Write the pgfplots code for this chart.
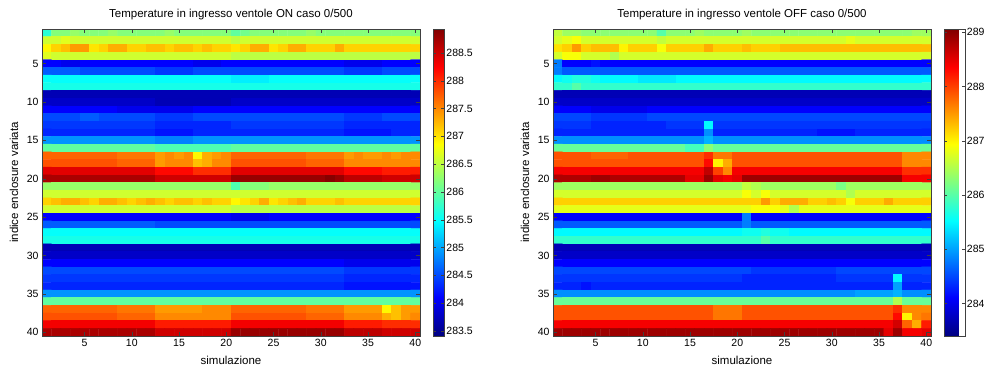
\documentclass[border=0pt]{standalone}
\usepackage{fontspec}
\setmainfont{Liberation Sans}
\usepackage{pgfplots}
\usepackage{pgfplotstable}
\pgfplotsset{compat=1.18}
\pgfplotsset{
  /pgf/number format/assume math mode=true,
  every axis/.append style={font=\fontsize{10.5}{12}\selectfont},
  hm/.style={
    scale only axis, width=378pt, height=307pt,
    xmin=0.5, xmax=40.5, ymin=0.5, ymax=40.5, y dir=reverse,
    xtick={5,10,...,40}, ytick={5,10,...,40},
    tick align=inside, tick pos=both, major tick length=4pt,
    axis on top, axis line style={black!75}, tick style={black!75},
    title style={font=\fontsize{11.5}{13}\selectfont, at={(axis description cs:0.5,1.026)}, anchor=center},
    xlabel={simulazione}, ylabel={indice enclosure variata},
    xlabel style={font=\fontsize{11.5}{13}\selectfont, at={(axis description cs:0.5,-0.078)}, anchor=center},
    ylabel style={font=\fontsize{11.5}{13}\selectfont, at={(axis description cs:-0.074,0.5)}, anchor=center},
    colormap/jet, colorbar, colorbar shift/.style={xshift=9pt},
  }
}
\pgfplotstableread[row sep=\\]{c\\
285.7\\ 286.2\\ 286.2\\ 286.3\\ 286.2\\ 286.2\\ 286.2\\ 286.3\\ 286.2\\ 286.2\\
286.2\\ 286.2\\ 286.2\\ 286.3\\ 286.2\\ 286.2\\ 286.2\\ 286.2\\ 286.2\\ 286.2\\
286.0\\ 286.1\\ 286.2\\ 286.2\\ 286.2\\ 286.2\\ 286.2\\ 286.2\\ 286.3\\ 286.2\\
286.2\\ 286.2\\ 286.2\\ 286.2\\ 286.2\\ 286.2\\ 286.2\\ 286.2\\ 286.2\\ 286.2\\
286.6\\ 286.6\\ 286.7\\ 286.6\\ 286.6\\ 286.6\\ 286.6\\ 286.6\\ 286.6\\ 286.6\\
286.6\\ 286.6\\ 286.6\\ 286.6\\ 286.6\\ 286.6\\ 286.6\\ 286.6\\ 286.6\\ 286.6\\
286.5\\ 286.6\\ 286.6\\ 286.6\\ 286.6\\ 286.6\\ 286.6\\ 286.6\\ 286.6\\ 286.6\\
286.6\\ 286.6\\ 286.6\\ 286.6\\ 286.6\\ 286.6\\ 286.6\\ 286.6\\ 286.6\\ 286.6\\
286.9\\ 287.1\\ 287.2\\ 287.4\\ 287.4\\ 287.0\\ 287.1\\ 287.3\\ 287.3\\ 287.1\\
287.1\\ 287.2\\ 287.2\\ 287.1\\ 287.2\\ 287.2\\ 287.1\\ 287.2\\ 287.1\\ 287.1\\
287.0\\ 287.1\\ 287.3\\ 287.3\\ 287.0\\ 287.1\\ 287.3\\ 287.3\\ 287.1\\ 287.1\\
287.1\\ 287.3\\ 287.1\\ 287.1\\ 287.1\\ 287.1\\ 287.1\\ 287.1\\ 287.1\\ 287.1\\
286.7\\ 286.6\\ 286.6\\ 286.6\\ 286.6\\ 286.6\\ 286.6\\ 286.6\\ 286.6\\ 286.6\\
286.6\\ 286.6\\ 286.6\\ 286.6\\ 286.6\\ 286.6\\ 286.6\\ 286.6\\ 286.6\\ 286.6\\
286.5\\ 286.5\\ 286.5\\ 286.5\\ 286.5\\ 286.5\\ 286.5\\ 286.5\\ 286.5\\ 286.5\\
286.5\\ 286.5\\ 286.5\\ 286.5\\ 286.5\\ 286.5\\ 286.5\\ 286.5\\ 286.5\\ 286.5\\
284.1\\ 284.1\\ 284.0\\ 284.0\\ 284.1\\ 284.1\\ 284.1\\ 284.1\\ 284.1\\ 284.1\\
284.1\\ 284.1\\ 284.1\\ 284.1\\ 284.1\\ 284.1\\ 284.0\\ 284.0\\ 284.0\\ 284.1\\
284.1\\ 284.1\\ 284.1\\ 284.1\\ 284.1\\ 284.1\\ 284.1\\ 284.1\\ 284.1\\ 284.1\\
284.1\\ 284.1\\ 284.0\\ 284.0\\ 284.0\\ 284.0\\ 284.1\\ 284.1\\ 284.1\\ 284.1\\
284.6\\ 284.6\\ 284.6\\ 284.6\\ 284.5\\ 284.5\\ 284.5\\ 284.5\\ 284.5\\ 284.5\\
284.5\\ 284.5\\ 284.4\\ 284.4\\ 284.4\\ 284.4\\ 284.5\\ 284.5\\ 284.5\\ 284.5\\
284.5\\ 284.5\\ 284.5\\ 284.5\\ 284.5\\ 284.5\\ 284.5\\ 284.5\\ 284.5\\ 284.5\\
284.5\\ 284.5\\ 284.4\\ 284.4\\ 284.4\\ 284.4\\ 284.5\\ 284.5\\ 284.5\\ 284.5\\
285.5\\ 285.5\\ 285.5\\ 285.5\\ 285.5\\ 285.5\\ 285.5\\ 285.5\\ 285.5\\ 285.5\\
285.5\\ 285.5\\ 285.5\\ 285.5\\ 285.5\\ 285.5\\ 285.5\\ 285.5\\ 285.5\\ 285.5\\
285.4\\ 285.4\\ 285.4\\ 285.4\\ 285.5\\ 285.5\\ 285.5\\ 285.5\\ 285.5\\ 285.5\\
285.5\\ 285.5\\ 285.5\\ 285.5\\ 285.5\\ 285.5\\ 285.5\\ 285.5\\ 285.5\\ 285.5\\
285.6\\ 285.6\\ 285.6\\ 285.6\\ 285.6\\ 285.6\\ 285.6\\ 285.6\\ 285.6\\ 285.6\\
285.6\\ 285.6\\ 285.6\\ 285.6\\ 285.6\\ 285.6\\ 285.6\\ 285.6\\ 285.6\\ 285.6\\
285.6\\ 285.6\\ 285.6\\ 285.6\\ 285.6\\ 285.6\\ 285.6\\ 285.6\\ 285.6\\ 285.6\\
285.6\\ 285.6\\ 285.6\\ 285.6\\ 285.6\\ 285.6\\ 285.6\\ 285.6\\ 285.6\\ 285.6\\
283.7\\ 283.7\\ 283.7\\ 283.7\\ 283.7\\ 283.7\\ 283.7\\ 283.7\\ 283.7\\ 283.7\\
283.7\\ 283.7\\ 283.7\\ 283.7\\ 283.7\\ 283.7\\ 283.7\\ 283.7\\ 283.7\\ 283.7\\
283.7\\ 283.7\\ 283.7\\ 283.7\\ 283.7\\ 283.7\\ 283.7\\ 283.7\\ 283.7\\ 283.7\\
283.7\\ 283.7\\ 283.7\\ 283.7\\ 283.7\\ 283.7\\ 283.7\\ 283.7\\ 283.7\\ 283.7\\
283.8\\ 283.8\\ 283.8\\ 283.8\\ 283.8\\ 283.8\\ 283.8\\ 283.8\\ 283.8\\ 283.8\\
283.8\\ 283.8\\ 283.7\\ 283.7\\ 283.7\\ 283.7\\ 283.7\\ 283.7\\ 283.7\\ 283.7\\
283.8\\ 283.8\\ 283.8\\ 283.8\\ 283.8\\ 283.8\\ 283.8\\ 283.8\\ 283.8\\ 283.8\\
283.8\\ 283.8\\ 283.8\\ 283.8\\ 283.8\\ 283.8\\ 283.8\\ 283.8\\ 283.8\\ 283.8\\
284.1\\ 284.1\\ 284.1\\ 284.1\\ 284.1\\ 284.1\\ 284.1\\ 284.1\\ 284.0\\ 284.0\\
284.0\\ 284.0\\ 284.0\\ 284.0\\ 284.0\\ 284.0\\ 284.1\\ 284.1\\ 284.1\\ 284.1\\
284.1\\ 284.1\\ 284.1\\ 284.1\\ 284.1\\ 284.1\\ 284.1\\ 284.1\\ 284.1\\ 284.1\\
284.1\\ 284.1\\ 284.1\\ 284.1\\ 284.1\\ 284.1\\ 284.1\\ 284.1\\ 284.1\\ 284.1\\
284.5\\ 284.5\\ 284.5\\ 284.5\\ 284.6\\ 284.6\\ 284.5\\ 284.5\\ 284.5\\ 284.5\\
284.5\\ 284.5\\ 284.4\\ 284.4\\ 284.4\\ 284.4\\ 284.5\\ 284.5\\ 284.5\\ 284.5\\
284.5\\ 284.5\\ 284.5\\ 284.5\\ 284.5\\ 284.5\\ 284.5\\ 284.5\\ 284.5\\ 284.5\\
284.5\\ 284.5\\ 284.4\\ 284.4\\ 284.4\\ 284.4\\ 284.5\\ 284.5\\ 284.5\\ 284.5\\
284.4\\ 284.4\\ 284.4\\ 284.4\\ 284.4\\ 284.4\\ 284.4\\ 284.4\\ 284.4\\ 284.4\\
284.4\\ 284.4\\ 284.3\\ 284.3\\ 284.3\\ 284.3\\ 284.3\\ 284.3\\ 284.3\\ 284.3\\
284.4\\ 284.4\\ 284.4\\ 284.4\\ 284.4\\ 284.4\\ 284.4\\ 284.4\\ 284.4\\ 284.4\\
284.4\\ 284.4\\ 284.3\\ 284.3\\ 284.3\\ 284.3\\ 284.3\\ 284.3\\ 284.3\\ 284.3\\
284.3\\ 284.3\\ 284.3\\ 284.3\\ 284.3\\ 284.3\\ 284.3\\ 284.3\\ 284.3\\ 284.3\\
284.3\\ 284.3\\ 284.2\\ 284.2\\ 284.2\\ 284.2\\ 284.3\\ 284.3\\ 284.3\\ 284.3\\
284.3\\ 284.3\\ 284.3\\ 284.3\\ 284.3\\ 284.3\\ 284.3\\ 284.3\\ 284.3\\ 284.3\\
284.3\\ 284.3\\ 284.2\\ 284.2\\ 284.2\\ 284.2\\ 284.2\\ 284.3\\ 284.3\\ 284.3\\
284.9\\ 284.9\\ 284.9\\ 284.9\\ 284.9\\ 284.9\\ 284.9\\ 284.9\\ 284.9\\ 284.9\\
284.9\\ 284.9\\ 284.8\\ 284.8\\ 284.8\\ 284.8\\ 284.9\\ 284.9\\ 284.9\\ 284.9\\
284.9\\ 284.9\\ 284.9\\ 284.9\\ 284.9\\ 284.9\\ 284.9\\ 284.9\\ 284.9\\ 284.9\\
284.9\\ 284.9\\ 284.9\\ 284.9\\ 284.9\\ 284.9\\ 284.9\\ 284.9\\ 284.9\\ 284.9\\
286.0\\ 286.0\\ 286.0\\ 286.0\\ 286.0\\ 286.0\\ 286.0\\ 286.0\\ 286.0\\ 286.0\\
286.0\\ 286.0\\ 285.9\\ 285.9\\ 285.9\\ 285.9\\ 285.9\\ 285.9\\ 285.9\\ 285.9\\
286.0\\ 286.0\\ 286.0\\ 286.0\\ 286.0\\ 286.0\\ 286.0\\ 286.0\\ 286.0\\ 286.0\\
286.0\\ 286.0\\ 286.0\\ 286.0\\ 286.0\\ 286.0\\ 286.0\\ 286.0\\ 286.0\\ 286.0\\
287.7\\ 287.7\\ 287.7\\ 287.7\\ 287.7\\ 287.7\\ 287.7\\ 287.7\\ 287.6\\ 287.6\\
287.6\\ 287.6\\ 287.4\\ 287.5\\ 287.4\\ 287.5\\ 286.9\\ 287.3\\ 287.4\\ 287.5\\
287.7\\ 287.7\\ 287.7\\ 287.7\\ 287.7\\ 287.7\\ 287.7\\ 287.7\\ 287.6\\ 287.6\\
287.6\\ 287.6\\ 287.4\\ 287.5\\ 287.4\\ 287.4\\ 287.5\\ 287.4\\ 287.5\\ 287.5\\
287.8\\ 287.8\\ 287.8\\ 287.8\\ 287.8\\ 287.8\\ 287.8\\ 287.8\\ 287.7\\ 287.7\\
287.7\\ 287.7\\ 287.4\\ 287.5\\ 287.5\\ 287.5\\ 287.2\\ 287.3\\ 287.5\\ 287.5\\
287.8\\ 287.8\\ 287.8\\ 287.8\\ 287.8\\ 287.8\\ 287.8\\ 287.8\\ 287.7\\ 287.7\\
287.7\\ 287.7\\ 287.5\\ 287.5\\ 287.5\\ 287.5\\ 287.5\\ 287.5\\ 287.5\\ 287.5\\
288.4\\ 288.4\\ 288.4\\ 288.4\\ 288.4\\ 288.4\\ 288.4\\ 288.4\\ 288.4\\ 288.4\\
288.4\\ 288.4\\ 288.2\\ 288.2\\ 288.2\\ 288.2\\ 288.0\\ 288.0\\ 288.0\\ 288.0\\
288.4\\ 288.4\\ 288.4\\ 288.4\\ 288.4\\ 288.4\\ 288.4\\ 288.4\\ 288.4\\ 288.4\\
288.4\\ 288.4\\ 288.2\\ 288.2\\ 288.2\\ 288.2\\ 288.1\\ 288.1\\ 288.1\\ 288.1\\
288.7\\ 288.7\\ 288.7\\ 288.7\\ 288.7\\ 288.7\\ 288.7\\ 288.7\\ 288.7\\ 288.7\\
288.7\\ 288.7\\ 288.5\\ 288.5\\ 288.5\\ 288.5\\ 288.5\\ 288.5\\ 288.5\\ 288.5\\
288.8\\ 288.8\\ 288.8\\ 288.8\\ 288.8\\ 288.8\\ 288.8\\ 288.8\\ 288.8\\ 288.8\\
288.9\\ 288.8\\ 288.6\\ 288.6\\ 288.6\\ 288.6\\ 288.5\\ 288.5\\ 288.5\\ 288.5\\
286.3\\ 286.3\\ 286.3\\ 286.3\\ 286.3\\ 286.3\\ 286.3\\ 286.3\\ 286.3\\ 286.3\\
286.3\\ 286.3\\ 286.3\\ 286.3\\ 286.3\\ 286.3\\ 286.3\\ 286.3\\ 286.3\\ 286.3\\
285.9\\ 286.2\\ 286.2\\ 286.2\\ 286.3\\ 286.3\\ 286.3\\ 286.3\\ 286.3\\ 286.3\\
286.3\\ 286.3\\ 286.3\\ 286.3\\ 286.3\\ 286.3\\ 286.3\\ 286.3\\ 286.3\\ 286.3\\
286.6\\ 286.6\\ 286.6\\ 286.6\\ 286.6\\ 286.6\\ 286.6\\ 286.6\\ 286.6\\ 286.6\\
286.6\\ 286.6\\ 286.6\\ 286.6\\ 286.6\\ 286.6\\ 286.6\\ 286.6\\ 286.6\\ 286.6\\
286.6\\ 286.6\\ 286.6\\ 286.6\\ 286.6\\ 286.6\\ 286.6\\ 286.6\\ 286.6\\ 286.6\\
286.6\\ 286.6\\ 286.6\\ 286.6\\ 286.6\\ 286.6\\ 286.6\\ 286.6\\ 286.6\\ 286.6\\
287.1\\ 287.2\\ 287.3\\ 287.3\\ 287.2\\ 287.1\\ 287.3\\ 287.3\\ 287.2\\ 287.1\\
287.2\\ 287.3\\ 287.2\\ 287.1\\ 287.2\\ 287.2\\ 287.1\\ 287.2\\ 287.1\\ 287.1\\
286.9\\ 287.0\\ 287.1\\ 287.3\\ 287.0\\ 287.1\\ 287.2\\ 287.3\\ 287.1\\ 287.1\\
287.1\\ 287.2\\ 287.1\\ 287.1\\ 287.1\\ 287.1\\ 287.1\\ 287.1\\ 287.1\\ 287.1\\
286.6\\ 286.6\\ 286.6\\ 286.6\\ 286.6\\ 286.6\\ 286.6\\ 286.6\\ 286.6\\ 286.6\\
286.6\\ 286.6\\ 286.6\\ 286.6\\ 286.6\\ 286.6\\ 286.6\\ 286.6\\ 286.6\\ 286.6\\
286.5\\ 286.5\\ 286.5\\ 286.5\\ 286.5\\ 286.5\\ 286.5\\ 286.5\\ 286.5\\ 286.5\\
286.5\\ 286.5\\ 286.5\\ 286.5\\ 286.5\\ 286.5\\ 286.5\\ 286.5\\ 286.5\\ 286.5\\
284.1\\ 284.1\\ 284.1\\ 284.1\\ 284.1\\ 284.1\\ 284.1\\ 284.1\\ 284.1\\ 284.1\\
284.1\\ 284.1\\ 284.1\\ 284.1\\ 284.1\\ 284.1\\ 284.1\\ 284.1\\ 284.1\\ 284.1\\
284.0\\ 284.0\\ 284.0\\ 284.0\\ 284.1\\ 284.1\\ 284.1\\ 284.1\\ 284.1\\ 284.1\\
284.1\\ 284.1\\ 284.1\\ 284.1\\ 284.1\\ 284.1\\ 284.1\\ 284.1\\ 284.1\\ 284.1\\
284.6\\ 284.6\\ 284.6\\ 284.6\\ 284.6\\ 284.6\\ 284.6\\ 284.6\\ 284.6\\ 284.6\\
284.6\\ 284.6\\ 284.5\\ 284.5\\ 284.5\\ 284.5\\ 284.5\\ 284.5\\ 284.5\\ 284.5\\
284.5\\ 284.5\\ 284.5\\ 284.5\\ 284.5\\ 284.5\\ 284.5\\ 284.5\\ 284.5\\ 284.5\\
284.5\\ 284.5\\ 284.5\\ 284.5\\ 284.5\\ 284.5\\ 284.5\\ 284.5\\ 284.5\\ 284.5\\
285.5\\ 285.5\\ 285.5\\ 285.5\\ 285.5\\ 285.5\\ 285.5\\ 285.5\\ 285.5\\ 285.5\\
285.5\\ 285.5\\ 285.5\\ 285.5\\ 285.5\\ 285.5\\ 285.5\\ 285.5\\ 285.5\\ 285.5\\
285.5\\ 285.5\\ 285.5\\ 285.5\\ 285.5\\ 285.5\\ 285.5\\ 285.5\\ 285.5\\ 285.5\\
285.5\\ 285.5\\ 285.5\\ 285.5\\ 285.5\\ 285.5\\ 285.5\\ 285.5\\ 285.5\\ 285.5\\
285.6\\ 285.6\\ 285.6\\ 285.6\\ 285.6\\ 285.6\\ 285.6\\ 285.6\\ 285.6\\ 285.6\\
285.6\\ 285.6\\ 285.6\\ 285.6\\ 285.6\\ 285.6\\ 285.6\\ 285.6\\ 285.6\\ 285.6\\
285.6\\ 285.6\\ 285.6\\ 285.6\\ 285.6\\ 285.6\\ 285.6\\ 285.6\\ 285.6\\ 285.6\\
285.6\\ 285.6\\ 285.6\\ 285.6\\ 285.6\\ 285.6\\ 285.6\\ 285.6\\ 285.6\\ 285.6\\
283.7\\ 283.7\\ 283.7\\ 283.7\\ 283.7\\ 283.7\\ 283.7\\ 283.7\\ 283.7\\ 283.7\\
283.7\\ 283.7\\ 283.7\\ 283.7\\ 283.7\\ 283.7\\ 283.7\\ 283.7\\ 283.7\\ 283.7\\
283.7\\ 283.7\\ 283.7\\ 283.7\\ 283.7\\ 283.7\\ 283.7\\ 283.7\\ 283.7\\ 283.7\\
283.7\\ 283.7\\ 283.7\\ 283.7\\ 283.7\\ 283.7\\ 283.7\\ 283.7\\ 283.7\\ 283.7\\
283.8\\ 283.8\\ 283.8\\ 283.8\\ 283.8\\ 283.8\\ 283.8\\ 283.8\\ 283.8\\ 283.8\\
283.8\\ 283.8\\ 283.8\\ 283.8\\ 283.8\\ 283.8\\ 283.8\\ 283.8\\ 283.8\\ 283.8\\
283.8\\ 283.8\\ 283.8\\ 283.8\\ 283.8\\ 283.8\\ 283.8\\ 283.8\\ 283.8\\ 283.8\\
283.8\\ 283.8\\ 283.8\\ 283.8\\ 283.8\\ 283.8\\ 283.8\\ 283.8\\ 283.8\\ 283.8\\
284.1\\ 284.1\\ 284.1\\ 284.1\\ 284.1\\ 284.1\\ 284.1\\ 284.1\\ 284.1\\ 284.1\\
284.1\\ 284.1\\ 284.1\\ 284.1\\ 284.1\\ 284.1\\ 284.1\\ 284.1\\ 284.1\\ 284.1\\
284.1\\ 284.1\\ 284.1\\ 284.1\\ 284.1\\ 284.1\\ 284.1\\ 284.1\\ 284.1\\ 284.1\\
284.1\\ 284.1\\ 284.0\\ 284.0\\ 284.0\\ 284.0\\ 284.0\\ 284.0\\ 284.0\\ 284.0\\
284.5\\ 284.5\\ 284.5\\ 284.5\\ 284.5\\ 284.5\\ 284.5\\ 284.5\\ 284.5\\ 284.5\\
284.5\\ 284.5\\ 284.5\\ 284.5\\ 284.5\\ 284.5\\ 284.5\\ 284.5\\ 284.5\\ 284.5\\
284.5\\ 284.5\\ 284.5\\ 284.5\\ 284.5\\ 284.5\\ 284.5\\ 284.5\\ 284.5\\ 284.5\\
284.5\\ 284.5\\ 284.4\\ 284.4\\ 284.4\\ 284.4\\ 284.4\\ 284.4\\ 284.4\\ 284.4\\
284.4\\ 284.4\\ 284.4\\ 284.4\\ 284.4\\ 284.4\\ 284.4\\ 284.4\\ 284.4\\ 284.4\\
284.4\\ 284.4\\ 284.4\\ 284.4\\ 284.4\\ 284.4\\ 284.4\\ 284.4\\ 284.4\\ 284.4\\
284.4\\ 284.4\\ 284.4\\ 284.4\\ 284.4\\ 284.4\\ 284.4\\ 284.4\\ 284.4\\ 284.4\\
284.4\\ 284.4\\ 284.3\\ 284.3\\ 284.3\\ 284.3\\ 284.3\\ 284.3\\ 284.3\\ 284.3\\
284.3\\ 284.3\\ 284.3\\ 284.3\\ 284.3\\ 284.3\\ 284.3\\ 284.3\\ 284.3\\ 284.3\\
284.3\\ 284.3\\ 284.3\\ 284.3\\ 284.3\\ 284.3\\ 284.3\\ 284.3\\ 284.3\\ 284.3\\
284.3\\ 284.3\\ 284.3\\ 284.3\\ 284.3\\ 284.3\\ 284.3\\ 284.3\\ 284.3\\ 284.3\\
284.3\\ 284.3\\ 284.2\\ 284.2\\ 284.2\\ 284.2\\ 284.2\\ 284.2\\ 284.2\\ 284.2\\
284.9\\ 284.9\\ 284.9\\ 284.9\\ 284.9\\ 284.9\\ 284.9\\ 284.9\\ 284.9\\ 284.9\\
284.9\\ 284.9\\ 284.9\\ 284.9\\ 284.9\\ 284.9\\ 284.9\\ 284.9\\ 284.9\\ 284.9\\
284.9\\ 284.9\\ 284.9\\ 284.9\\ 284.9\\ 284.9\\ 284.9\\ 284.9\\ 284.9\\ 284.9\\
284.9\\ 284.9\\ 284.9\\ 284.9\\ 284.9\\ 284.9\\ 284.9\\ 284.9\\ 284.9\\ 284.9\\
286.0\\ 286.0\\ 286.0\\ 286.0\\ 286.0\\ 286.0\\ 286.0\\ 286.0\\ 286.0\\ 286.0\\
286.0\\ 286.0\\ 286.0\\ 286.0\\ 286.0\\ 286.0\\ 286.0\\ 286.0\\ 286.0\\ 286.0\\
286.0\\ 286.0\\ 286.0\\ 286.0\\ 286.0\\ 286.0\\ 286.0\\ 286.0\\ 286.0\\ 286.0\\
286.0\\ 286.0\\ 286.0\\ 286.0\\ 286.0\\ 286.0\\ 286.0\\ 286.0\\ 286.0\\ 286.0\\
287.7\\ 287.7\\ 287.7\\ 287.7\\ 287.7\\ 287.7\\ 287.7\\ 287.7\\ 287.6\\ 287.6\\
287.6\\ 287.6\\ 287.4\\ 287.4\\ 287.4\\ 287.4\\ 287.4\\ 287.5\\ 287.5\\ 287.5\\
287.7\\ 287.7\\ 287.7\\ 287.7\\ 287.7\\ 287.7\\ 287.7\\ 287.7\\ 287.6\\ 287.6\\
287.6\\ 287.6\\ 287.4\\ 287.4\\ 287.4\\ 287.4\\ 286.9\\ 287.2\\ 287.4\\ 287.4\\
287.8\\ 287.8\\ 287.8\\ 287.8\\ 287.8\\ 287.8\\ 287.8\\ 287.8\\ 287.7\\ 287.7\\
287.7\\ 287.7\\ 287.5\\ 287.5\\ 287.5\\ 287.5\\ 287.5\\ 287.5\\ 287.5\\ 287.5\\
287.8\\ 287.8\\ 287.8\\ 287.8\\ 287.8\\ 287.8\\ 287.8\\ 287.8\\ 287.7\\ 287.7\\
287.7\\ 287.7\\ 287.5\\ 287.5\\ 287.5\\ 287.5\\ 287.3\\ 287.2\\ 287.4\\ 287.5\\
288.3\\ 288.3\\ 288.3\\ 288.3\\ 288.3\\ 288.3\\ 288.3\\ 288.3\\ 288.3\\ 288.3\\
288.3\\ 288.3\\ 288.1\\ 288.1\\ 288.1\\ 288.1\\ 288.1\\ 288.1\\ 288.1\\ 288.1\\
288.3\\ 288.3\\ 288.3\\ 288.3\\ 288.3\\ 288.3\\ 288.3\\ 288.3\\ 288.3\\ 288.3\\
288.3\\ 288.3\\ 288.1\\ 288.1\\ 288.1\\ 288.1\\ 288.0\\ 288.0\\ 288.0\\ 288.0\\
288.7\\ 288.7\\ 288.7\\ 288.7\\ 288.7\\ 288.7\\ 288.7\\ 288.7\\ 288.7\\ 288.7\\
288.7\\ 288.7\\ 288.5\\ 288.5\\ 288.5\\ 288.5\\ 288.5\\ 288.5\\ 288.5\\ 288.5\\
288.8\\ 288.8\\ 288.8\\ 288.8\\ 288.8\\ 288.8\\ 288.8\\ 288.8\\ 288.8\\ 288.8\\
288.8\\ 288.8\\ 288.6\\ 288.6\\ 288.6\\ 288.6\\ 288.5\\ 288.5\\ 288.5\\ 288.5\\
}\dataON
\pgfplotstableread[row sep=\\]{c\\
286.6\\ 286.4\\ 286.4\\ 286.3\\ 286.3\\ 286.3\\ 286.3\\ 286.3\\ 286.3\\ 286.3\\
286.3\\ 286.0\\ 286.3\\ 286.3\\ 286.3\\ 286.4\\ 286.3\\ 286.3\\ 286.3\\ 286.3\\
286.4\\ 286.3\\ 286.3\\ 286.3\\ 286.3\\ 286.3\\ 286.3\\ 286.3\\ 286.3\\ 286.3\\
286.3\\ 286.3\\ 286.3\\ 286.3\\ 286.3\\ 286.3\\ 286.3\\ 286.3\\ 286.4\\ 286.4\\
286.7\\ 286.8\\ 286.9\\ 286.7\\ 286.7\\ 286.7\\ 286.7\\ 286.7\\ 286.7\\ 286.7\\
286.7\\ 286.6\\ 286.7\\ 286.7\\ 286.7\\ 286.7\\ 286.7\\ 286.7\\ 286.7\\ 286.7\\
286.7\\ 286.7\\ 286.7\\ 286.7\\ 286.7\\ 286.7\\ 286.7\\ 286.7\\ 286.7\\ 286.7\\
286.7\\ 286.8\\ 286.7\\ 286.7\\ 286.7\\ 286.7\\ 286.7\\ 286.7\\ 286.7\\ 286.7\\
287.1\\ 287.2\\ 287.5\\ 287.2\\ 287.3\\ 287.3\\ 287.3\\ 287.0\\ 287.2\\ 287.2\\
287.2\\ 286.9\\ 287.2\\ 287.2\\ 287.2\\ 287.2\\ 287.4\\ 287.2\\ 287.2\\ 287.2\\
287.3\\ 287.2\\ 287.2\\ 287.2\\ 287.3\\ 287.3\\ 287.3\\ 287.3\\ 287.3\\ 287.3\\
287.3\\ 287.3\\ 287.3\\ 287.3\\ 287.3\\ 287.3\\ 287.3\\ 287.3\\ 287.3\\ 287.3\\
286.7\\ 286.9\\ 286.9\\ 286.7\\ 286.7\\ 286.7\\ 286.5\\ 286.7\\ 286.7\\ 286.7\\
286.7\\ 286.7\\ 286.7\\ 286.7\\ 286.7\\ 286.7\\ 286.7\\ 286.7\\ 286.7\\ 286.7\\
286.7\\ 286.7\\ 286.7\\ 286.7\\ 286.7\\ 286.7\\ 286.7\\ 286.7\\ 286.7\\ 286.7\\
286.7\\ 286.7\\ 286.7\\ 286.7\\ 286.7\\ 286.7\\ 286.7\\ 286.7\\ 286.7\\ 286.7\\
284.8\\ 284.1\\ 284.1\\ 284.1\\ 284.2\\ 284.1\\ 284.1\\ 284.1\\ 284.1\\ 284.1\\
284.1\\ 284.1\\ 284.1\\ 284.1\\ 284.1\\ 284.1\\ 284.1\\ 284.1\\ 284.1\\ 284.1\\
284.1\\ 284.1\\ 284.1\\ 284.1\\ 284.1\\ 284.1\\ 284.1\\ 284.1\\ 284.1\\ 284.1\\
284.1\\ 284.1\\ 284.1\\ 284.1\\ 284.1\\ 284.1\\ 284.1\\ 284.1\\ 284.1\\ 284.1\\
284.8\\ 284.6\\ 284.6\\ 284.6\\ 284.6\\ 284.6\\ 284.6\\ 284.6\\ 284.6\\ 284.6\\
284.6\\ 284.6\\ 284.6\\ 284.6\\ 284.6\\ 284.6\\ 284.6\\ 284.6\\ 284.6\\ 284.6\\
284.6\\ 284.6\\ 284.6\\ 284.6\\ 284.6\\ 284.6\\ 284.6\\ 284.6\\ 284.6\\ 284.6\\
284.6\\ 284.6\\ 284.6\\ 284.6\\ 284.6\\ 284.6\\ 284.6\\ 284.6\\ 284.6\\ 284.6\\
285.5\\ 285.6\\ 285.7\\ 285.7\\ 285.6\\ 285.5\\ 285.5\\ 285.5\\ 285.5\\ 285.4\\
285.4\\ 285.4\\ 285.4\\ 285.5\\ 285.5\\ 285.5\\ 285.5\\ 285.5\\ 285.5\\ 285.5\\
285.5\\ 285.5\\ 285.5\\ 285.5\\ 285.5\\ 285.5\\ 285.5\\ 285.5\\ 285.5\\ 285.5\\
285.5\\ 285.5\\ 285.5\\ 285.5\\ 285.5\\ 285.5\\ 285.5\\ 285.5\\ 285.5\\ 285.5\\
285.8\\ 285.8\\ 286.0\\ 285.8\\ 285.8\\ 285.8\\ 285.8\\ 285.8\\ 285.8\\ 285.8\\
285.8\\ 285.8\\ 285.8\\ 285.8\\ 285.8\\ 285.8\\ 285.8\\ 285.8\\ 285.8\\ 285.8\\
285.8\\ 285.8\\ 285.8\\ 285.8\\ 285.8\\ 285.8\\ 285.8\\ 285.8\\ 285.8\\ 285.8\\
285.8\\ 285.8\\ 285.8\\ 285.8\\ 285.8\\ 285.8\\ 285.8\\ 285.8\\ 285.8\\ 285.8\\
283.7\\ 283.7\\ 283.7\\ 283.7\\ 283.7\\ 283.7\\ 283.7\\ 283.7\\ 283.7\\ 283.7\\
283.7\\ 283.7\\ 283.7\\ 283.7\\ 283.7\\ 283.7\\ 283.7\\ 283.7\\ 283.7\\ 283.7\\
283.7\\ 283.7\\ 283.7\\ 283.7\\ 283.7\\ 283.7\\ 283.7\\ 283.7\\ 283.7\\ 283.7\\
283.7\\ 283.7\\ 283.7\\ 283.7\\ 283.7\\ 283.7\\ 283.7\\ 283.7\\ 283.7\\ 283.7\\
283.8\\ 283.8\\ 283.8\\ 283.8\\ 283.8\\ 283.8\\ 283.8\\ 283.8\\ 283.8\\ 283.8\\
283.8\\ 283.8\\ 283.8\\ 283.8\\ 283.8\\ 283.8\\ 283.8\\ 283.8\\ 283.8\\ 283.8\\
283.8\\ 283.8\\ 283.8\\ 283.8\\ 283.8\\ 283.8\\ 283.8\\ 283.8\\ 283.8\\ 283.8\\
283.8\\ 283.8\\ 283.8\\ 283.8\\ 283.8\\ 283.8\\ 283.8\\ 283.8\\ 283.8\\ 283.8\\
284.1\\ 284.1\\ 284.1\\ 284.1\\ 284.0\\ 284.0\\ 284.0\\ 284.0\\ 284.0\\ 284.0\\
284.1\\ 284.1\\ 284.1\\ 284.1\\ 284.1\\ 284.1\\ 284.1\\ 284.1\\ 284.1\\ 284.1\\
284.1\\ 284.1\\ 284.1\\ 284.1\\ 284.1\\ 284.1\\ 284.1\\ 284.1\\ 284.1\\ 284.1\\
284.1\\ 284.1\\ 284.1\\ 284.1\\ 284.1\\ 284.1\\ 284.1\\ 284.1\\ 284.1\\ 284.1\\
284.5\\ 284.5\\ 284.5\\ 284.5\\ 284.4\\ 284.4\\ 284.4\\ 284.4\\ 284.4\\ 284.4\\
284.5\\ 284.5\\ 284.5\\ 284.5\\ 284.5\\ 284.5\\ 284.5\\ 284.5\\ 284.5\\ 284.5\\
284.5\\ 284.5\\ 284.5\\ 284.5\\ 284.5\\ 284.5\\ 284.5\\ 284.5\\ 284.5\\ 284.5\\
284.5\\ 284.5\\ 284.5\\ 284.5\\ 284.5\\ 284.5\\ 284.5\\ 284.5\\ 284.5\\ 284.5\\
284.4\\ 284.4\\ 284.4\\ 284.4\\ 284.3\\ 284.3\\ 284.3\\ 284.3\\ 284.3\\ 284.3\\
284.3\\ 284.3\\ 284.4\\ 284.4\\ 284.4\\ 284.4\\ 285.5\\ 284.4\\ 284.4\\ 284.4\\
284.4\\ 284.4\\ 284.4\\ 284.4\\ 284.4\\ 284.4\\ 284.4\\ 284.4\\ 284.4\\ 284.4\\
284.4\\ 284.4\\ 284.4\\ 284.4\\ 284.4\\ 284.4\\ 284.4\\ 284.4\\ 284.4\\ 284.4\\
284.3\\ 284.3\\ 284.3\\ 284.3\\ 284.3\\ 284.3\\ 284.3\\ 284.3\\ 284.3\\ 284.3\\
284.3\\ 284.3\\ 284.3\\ 284.3\\ 284.3\\ 284.3\\ 284.9\\ 284.3\\ 284.3\\ 284.3\\
284.3\\ 284.3\\ 284.3\\ 284.3\\ 284.3\\ 284.3\\ 284.3\\ 284.3\\ 284.2\\ 284.2\\
284.2\\ 284.2\\ 284.3\\ 284.3\\ 284.3\\ 284.3\\ 284.3\\ 284.3\\ 284.3\\ 284.3\\
284.9\\ 284.9\\ 284.9\\ 284.9\\ 284.9\\ 284.9\\ 284.9\\ 284.9\\ 284.9\\ 284.9\\
284.9\\ 284.9\\ 284.9\\ 284.9\\ 284.9\\ 284.9\\ 285.1\\ 284.9\\ 284.9\\ 284.9\\
284.9\\ 284.9\\ 284.9\\ 284.9\\ 284.9\\ 284.9\\ 284.9\\ 284.9\\ 284.9\\ 284.9\\
284.9\\ 284.9\\ 284.9\\ 284.9\\ 284.9\\ 284.9\\ 284.9\\ 284.9\\ 284.9\\ 284.9\\
286.1\\ 286.1\\ 286.1\\ 286.1\\ 286.1\\ 286.1\\ 286.1\\ 286.1\\ 286.1\\ 286.1\\
286.1\\ 286.1\\ 286.1\\ 286.1\\ 285.9\\ 285.9\\ 286.3\\ 286.1\\ 286.1\\ 286.1\\
286.1\\ 286.1\\ 286.1\\ 286.1\\ 286.1\\ 286.1\\ 286.1\\ 286.1\\ 286.1\\ 286.1\\
286.1\\ 286.1\\ 286.1\\ 286.1\\ 286.1\\ 286.1\\ 286.1\\ 286.1\\ 286.1\\ 286.1\\
287.9\\ 287.9\\ 287.9\\ 287.9\\ 287.8\\ 287.8\\ 287.8\\ 287.8\\ 287.9\\ 287.9\\
287.9\\ 287.9\\ 287.9\\ 287.9\\ 287.9\\ 287.9\\ 288.1\\ 287.7\\ 287.7\\ 287.9\\
287.9\\ 287.9\\ 287.9\\ 287.9\\ 287.9\\ 287.9\\ 287.9\\ 287.9\\ 287.9\\ 287.9\\
287.9\\ 287.9\\ 287.9\\ 287.9\\ 287.9\\ 287.9\\ 287.9\\ 287.6\\ 287.6\\ 287.6\\
287.9\\ 287.9\\ 287.9\\ 287.9\\ 287.9\\ 287.9\\ 287.9\\ 287.9\\ 287.9\\ 287.9\\
287.9\\ 287.9\\ 287.9\\ 287.9\\ 287.9\\ 287.9\\ 288.3\\ 287.0\\ 287.4\\ 287.9\\
287.9\\ 287.9\\ 287.9\\ 287.9\\ 287.9\\ 287.9\\ 287.9\\ 287.9\\ 287.9\\ 287.9\\
287.9\\ 287.9\\ 287.9\\ 287.9\\ 287.9\\ 287.9\\ 287.9\\ 287.6\\ 287.6\\ 287.6\\
288.4\\ 288.4\\ 288.4\\ 288.4\\ 288.4\\ 288.4\\ 288.4\\ 288.4\\ 288.4\\ 288.4\\
288.4\\ 288.4\\ 288.4\\ 288.4\\ 288.4\\ 288.4\\ 288.7\\ 288.0\\ 287.6\\ 288.4\\
288.4\\ 288.4\\ 288.4\\ 288.4\\ 288.4\\ 288.4\\ 288.4\\ 288.4\\ 288.4\\ 288.4\\
288.4\\ 288.4\\ 288.4\\ 288.4\\ 288.4\\ 288.4\\ 288.4\\ 288.1\\ 288.1\\ 288.1\\
288.8\\ 288.8\\ 288.8\\ 288.8\\ 288.9\\ 288.9\\ 288.8\\ 288.8\\ 288.8\\ 288.8\\
288.8\\ 288.8\\ 288.8\\ 288.8\\ 288.5\\ 288.5\\ 288.9\\ 288.5\\ 288.4\\ 288.5\\
288.9\\ 288.9\\ 288.9\\ 288.9\\ 288.9\\ 288.9\\ 288.9\\ 288.9\\ 288.9\\ 288.9\\
288.9\\ 288.9\\ 288.9\\ 288.9\\ 288.9\\ 288.9\\ 288.9\\ 288.4\\ 288.4\\ 288.4\\
286.4\\ 286.4\\ 286.4\\ 286.4\\ 286.4\\ 286.4\\ 286.4\\ 286.4\\ 286.4\\ 286.4\\
286.4\\ 286.4\\ 286.4\\ 286.4\\ 286.4\\ 286.4\\ 286.4\\ 286.4\\ 286.4\\ 286.4\\
286.6\\ 286.5\\ 286.4\\ 286.4\\ 286.4\\ 286.4\\ 286.4\\ 286.4\\ 286.4\\ 286.4\\
286.2\\ 286.4\\ 286.4\\ 286.4\\ 286.4\\ 286.4\\ 286.4\\ 286.4\\ 286.4\\ 286.4\\
286.7\\ 286.7\\ 286.7\\ 286.7\\ 286.7\\ 286.7\\ 286.7\\ 286.7\\ 286.7\\ 286.7\\
286.7\\ 286.7\\ 286.7\\ 286.7\\ 286.7\\ 286.7\\ 286.7\\ 286.7\\ 286.7\\ 286.7\\
286.9\\ 286.7\\ 286.9\\ 286.7\\ 286.7\\ 286.7\\ 286.7\\ 286.7\\ 286.7\\ 286.7\\
286.7\\ 286.5\\ 286.7\\ 286.7\\ 286.7\\ 286.7\\ 286.7\\ 286.7\\ 286.7\\ 286.7\\
287.2\\ 287.2\\ 287.2\\ 287.2\\ 287.2\\ 287.2\\ 287.2\\ 287.2\\ 287.2\\ 287.2\\
287.2\\ 287.2\\ 287.2\\ 287.2\\ 287.2\\ 287.2\\ 287.2\\ 287.2\\ 287.2\\ 287.2\\
287.2\\ 287.2\\ 287.5\\ 287.2\\ 287.4\\ 287.4\\ 287.4\\ 287.2\\ 287.2\\ 287.3\\
287.2\\ 286.9\\ 287.2\\ 287.2\\ 287.2\\ 287.4\\ 287.2\\ 287.2\\ 287.2\\ 287.2\\
286.8\\ 286.8\\ 286.8\\ 286.8\\ 286.8\\ 286.8\\ 286.8\\ 286.8\\ 286.8\\ 286.8\\
286.8\\ 286.8\\ 286.8\\ 286.8\\ 286.8\\ 286.8\\ 286.8\\ 286.8\\ 286.8\\ 286.8\\
286.8\\ 286.9\\ 286.9\\ 286.9\\ 286.8\\ 286.5\\ 286.8\\ 286.8\\ 286.8\\ 286.8\\
286.8\\ 286.8\\ 286.8\\ 286.8\\ 286.8\\ 286.8\\ 286.8\\ 286.8\\ 286.8\\ 286.8\\
284.1\\ 284.1\\ 284.1\\ 284.1\\ 284.1\\ 284.1\\ 284.1\\ 284.1\\ 284.1\\ 284.1\\
284.1\\ 284.1\\ 284.1\\ 284.1\\ 284.1\\ 284.1\\ 284.1\\ 284.1\\ 284.1\\ 284.1\\
284.8\\ 284.1\\ 284.1\\ 284.1\\ 284.1\\ 284.1\\ 284.1\\ 284.1\\ 284.1\\ 284.1\\
284.1\\ 284.1\\ 284.1\\ 284.1\\ 284.1\\ 284.1\\ 284.1\\ 284.1\\ 284.1\\ 284.1\\
284.6\\ 284.6\\ 284.6\\ 284.6\\ 284.6\\ 284.6\\ 284.6\\ 284.6\\ 284.6\\ 284.6\\
284.6\\ 284.6\\ 284.6\\ 284.6\\ 284.6\\ 284.6\\ 284.6\\ 284.6\\ 284.6\\ 284.6\\
284.8\\ 284.6\\ 284.6\\ 284.6\\ 284.6\\ 284.6\\ 284.6\\ 284.6\\ 284.6\\ 284.6\\
284.6\\ 284.6\\ 284.6\\ 284.6\\ 284.6\\ 284.6\\ 284.6\\ 284.6\\ 284.6\\ 284.6\\
285.5\\ 285.5\\ 285.5\\ 285.5\\ 285.5\\ 285.5\\ 285.5\\ 285.5\\ 285.5\\ 285.5\\
285.5\\ 285.5\\ 285.5\\ 285.5\\ 285.5\\ 285.5\\ 285.5\\ 285.5\\ 285.5\\ 285.5\\
285.6\\ 285.6\\ 285.7\\ 285.6\\ 285.6\\ 285.5\\ 285.5\\ 285.5\\ 285.5\\ 285.5\\
285.5\\ 285.5\\ 285.5\\ 285.5\\ 285.5\\ 285.5\\ 285.5\\ 285.5\\ 285.5\\ 285.5\\
285.8\\ 285.8\\ 285.8\\ 285.8\\ 285.8\\ 285.8\\ 285.8\\ 285.8\\ 285.8\\ 285.8\\
285.8\\ 285.8\\ 285.8\\ 285.8\\ 285.8\\ 285.8\\ 285.8\\ 285.8\\ 285.8\\ 285.8\\
285.8\\ 285.8\\ 286.0\\ 285.8\\ 285.8\\ 285.8\\ 285.8\\ 285.8\\ 285.8\\ 285.8\\
285.8\\ 285.8\\ 285.8\\ 285.8\\ 285.8\\ 285.8\\ 285.8\\ 285.8\\ 285.8\\ 285.8\\
283.7\\ 283.7\\ 283.7\\ 283.7\\ 283.7\\ 283.7\\ 283.7\\ 283.7\\ 283.7\\ 283.7\\
283.7\\ 283.7\\ 283.7\\ 283.7\\ 283.7\\ 283.7\\ 283.7\\ 283.7\\ 283.7\\ 283.7\\
283.7\\ 283.7\\ 283.7\\ 283.7\\ 283.7\\ 283.7\\ 283.7\\ 283.7\\ 283.7\\ 283.7\\
283.7\\ 283.7\\ 283.7\\ 283.7\\ 283.7\\ 283.7\\ 283.7\\ 283.7\\ 283.7\\ 283.7\\
283.8\\ 283.8\\ 283.8\\ 283.8\\ 283.8\\ 283.8\\ 283.8\\ 283.8\\ 283.8\\ 283.8\\
283.8\\ 283.8\\ 283.8\\ 283.8\\ 283.8\\ 283.8\\ 283.8\\ 283.8\\ 283.8\\ 283.8\\
283.8\\ 283.8\\ 283.8\\ 283.8\\ 283.8\\ 283.8\\ 283.8\\ 283.8\\ 283.8\\ 283.8\\
283.8\\ 283.8\\ 283.8\\ 283.8\\ 283.8\\ 283.8\\ 283.8\\ 283.8\\ 283.8\\ 283.8\\
284.1\\ 284.1\\ 284.1\\ 284.1\\ 284.1\\ 284.1\\ 284.1\\ 284.1\\ 284.1\\ 284.1\\
284.1\\ 284.1\\ 284.1\\ 284.1\\ 284.1\\ 284.1\\ 284.1\\ 284.1\\ 284.1\\ 284.1\\
284.1\\ 284.1\\ 284.1\\ 284.1\\ 284.1\\ 284.1\\ 284.1\\ 284.1\\ 284.1\\ 284.1\\
284.1\\ 284.1\\ 284.1\\ 284.1\\ 284.1\\ 284.1\\ 284.1\\ 284.1\\ 284.1\\ 284.1\\
284.5\\ 284.5\\ 284.5\\ 284.5\\ 284.5\\ 284.5\\ 284.5\\ 284.5\\ 284.5\\ 284.5\\
284.5\\ 284.5\\ 284.5\\ 284.5\\ 284.5\\ 284.5\\ 284.5\\ 284.5\\ 284.5\\ 284.5\\
284.5\\ 284.4\\ 284.4\\ 284.4\\ 284.4\\ 284.4\\ 284.4\\ 284.4\\ 284.4\\ 284.4\\
284.5\\ 284.5\\ 284.5\\ 284.5\\ 284.5\\ 284.5\\ 284.5\\ 284.5\\ 284.5\\ 284.5\\
284.4\\ 284.4\\ 284.4\\ 284.4\\ 284.4\\ 284.4\\ 284.4\\ 284.4\\ 284.4\\ 284.4\\
284.4\\ 284.4\\ 284.4\\ 284.4\\ 284.4\\ 284.4\\ 284.4\\ 284.4\\ 284.4\\ 284.4\\
284.3\\ 284.3\\ 284.3\\ 284.3\\ 284.3\\ 284.3\\ 284.3\\ 284.3\\ 284.3\\ 284.3\\
284.4\\ 284.4\\ 284.4\\ 284.4\\ 284.4\\ 284.4\\ 285.5\\ 284.4\\ 284.4\\ 284.4\\
284.3\\ 284.3\\ 284.3\\ 284.2\\ 284.3\\ 284.3\\ 284.3\\ 284.3\\ 284.3\\ 284.3\\
284.3\\ 284.3\\ 284.3\\ 284.3\\ 284.3\\ 284.3\\ 284.3\\ 284.3\\ 284.3\\ 284.3\\
284.3\\ 284.3\\ 284.3\\ 284.3\\ 284.3\\ 284.3\\ 284.3\\ 284.3\\ 284.3\\ 284.3\\
284.3\\ 284.3\\ 284.3\\ 284.3\\ 284.3\\ 284.3\\ 285.0\\ 284.3\\ 284.3\\ 284.3\\
284.9\\ 284.9\\ 284.9\\ 284.9\\ 284.9\\ 284.9\\ 284.9\\ 284.9\\ 284.9\\ 284.9\\
284.9\\ 284.9\\ 284.9\\ 284.9\\ 284.9\\ 284.9\\ 284.9\\ 284.9\\ 284.9\\ 284.9\\
284.9\\ 284.9\\ 284.9\\ 284.9\\ 284.9\\ 284.9\\ 284.9\\ 284.9\\ 284.9\\ 284.9\\
284.9\\ 284.9\\ 285.0\\ 285.0\\ 285.0\\ 285.0\\ 285.1\\ 284.9\\ 284.9\\ 284.9\\
286.1\\ 286.1\\ 286.1\\ 286.1\\ 286.1\\ 286.1\\ 286.1\\ 286.1\\ 286.1\\ 286.1\\
286.1\\ 286.1\\ 286.1\\ 286.1\\ 286.1\\ 286.1\\ 286.1\\ 286.1\\ 286.1\\ 286.1\\
286.1\\ 286.1\\ 286.1\\ 286.1\\ 286.1\\ 286.1\\ 286.1\\ 286.1\\ 286.1\\ 286.1\\
286.1\\ 286.1\\ 286.1\\ 286.1\\ 286.1\\ 286.1\\ 286.5\\ 286.1\\ 286.1\\ 286.1\\
287.9\\ 287.9\\ 287.9\\ 287.9\\ 287.9\\ 287.9\\ 287.9\\ 287.9\\ 287.9\\ 287.9\\
287.9\\ 287.9\\ 287.9\\ 287.9\\ 287.9\\ 287.9\\ 287.9\\ 287.7\\ 287.7\\ 287.7\\
287.9\\ 287.9\\ 287.9\\ 287.9\\ 287.9\\ 287.9\\ 287.9\\ 287.9\\ 287.9\\ 287.9\\
287.9\\ 287.9\\ 287.9\\ 287.9\\ 287.9\\ 287.9\\ 288.1\\ 287.6\\ 287.6\\ 287.6\\
287.9\\ 287.9\\ 287.9\\ 287.9\\ 287.9\\ 287.9\\ 287.9\\ 287.9\\ 287.9\\ 287.9\\
287.9\\ 287.9\\ 287.9\\ 287.9\\ 287.9\\ 287.9\\ 287.9\\ 287.7\\ 287.7\\ 287.7\\
287.9\\ 287.9\\ 287.9\\ 287.9\\ 287.9\\ 287.9\\ 287.9\\ 287.9\\ 287.9\\ 287.9\\
287.9\\ 287.9\\ 287.9\\ 287.9\\ 287.9\\ 287.9\\ 288.3\\ 287.0\\ 287.6\\ 287.7\\
288.4\\ 288.4\\ 288.4\\ 288.4\\ 288.4\\ 288.4\\ 288.4\\ 288.4\\ 288.4\\ 288.4\\
288.4\\ 288.4\\ 288.4\\ 288.4\\ 288.4\\ 288.4\\ 288.4\\ 288.4\\ 288.4\\ 288.4\\
288.4\\ 288.4\\ 288.4\\ 288.4\\ 288.4\\ 288.4\\ 288.4\\ 288.4\\ 288.4\\ 288.4\\
288.4\\ 288.4\\ 288.4\\ 288.4\\ 288.4\\ 288.4\\ 288.6\\ 287.8\\ 287.4\\ 288.2\\
288.9\\ 288.9\\ 288.9\\ 288.9\\ 288.9\\ 288.9\\ 288.9\\ 288.9\\ 288.9\\ 288.9\\
288.9\\ 288.9\\ 288.9\\ 288.9\\ 288.9\\ 288.9\\ 288.9\\ 288.9\\ 288.9\\ 288.9\\
288.9\\ 288.9\\ 288.9\\ 288.9\\ 288.9\\ 288.9\\ 288.9\\ 288.9\\ 288.9\\ 288.9\\
288.9\\ 288.9\\ 288.9\\ 288.9\\ 288.9\\ 288.5\\ 288.9\\ 288.4\\ 288.4\\ 288.5\\
}\dataOFF
\begin{document}
\begin{tikzpicture}[x=1pt,y=1pt]
\useasboundingbox (0,0) rectangle (984,367);
\begin{axis}[hm, at={(42pt,31pt)}, anchor=south west,
  title={Temperature in ingresso ventole ON caso 0/500},
  point meta min=283.41, point meta max=288.93,
  colorbar style={width=11pt, ytick={283.5,284,284.5,285,285.5,286,286.5,287,287.5,288,288.5},
    tick align=inside, major tick length=3pt, axis line style={black!75}, tick style={black!75},
    yticklabel style={xshift=-1.5pt, /pgf/number format/.cd, fixed, precision=1}}]
\addplot[matrix plot*, mesh/cols=40, point meta=explicit]
  table[x index=0, y index=0, x expr={\coordindex-40*floor((\coordindex+0.5)/40)+1}, y expr={floor((\coordindex+0.5)/40)+1}, meta=c] {\dataON};
\end{axis}
\begin{axis}[hm, at={(553pt,31pt)}, anchor=south west,
  title={Temperature in ingresso ventole OFF caso 0/500},
  point meta min=283.40, point meta max=289.06,
  colorbar style={width=21pt, ytick={284,285,286,287,288,289},
    tick align=inside, major tick length=3pt, axis line style={black!75}, tick style={black!75},
    yticklabel style={xshift=-2pt, /pgf/number format/.cd, fixed, precision=1}}]
\addplot[matrix plot*, mesh/cols=40, point meta=explicit]
  table[x index=0, y index=0, x expr={\coordindex-40*floor((\coordindex+0.5)/40)+1}, y expr={floor((\coordindex+0.5)/40)+1}, meta=c] {\dataOFF};
\end{axis}
\end{tikzpicture}
\end{document}
